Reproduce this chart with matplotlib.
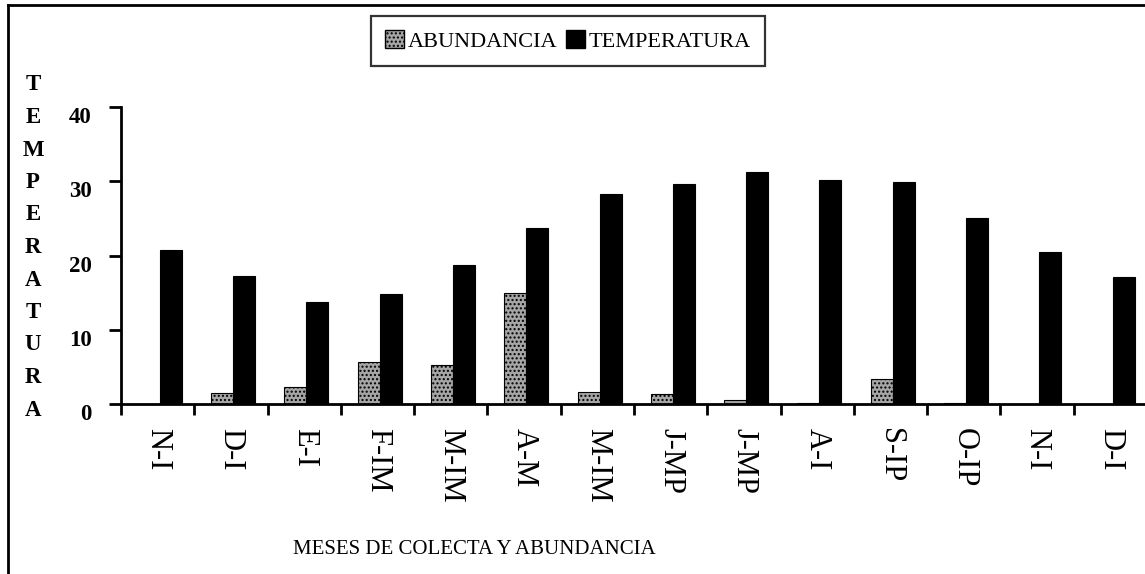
import numpy as np
import matplotlib
matplotlib.use("Agg")
import matplotlib.pyplot as plt
from matplotlib.patches import Patch
from matplotlib.lines import Line2D

plt.rcParams['font.family'] = ['Liberation Serif', 'DejaVu Serif']
plt.rcParams['hatch.linewidth'] = 1.0

# datos
meses = ['N-I', 'D-I', 'E-I', 'F-IM', 'M-IM', 'A-M', 'M-IM',
         'J-MP', 'J-MP', 'A-I', 'S-IP', 'O-IP', 'N-I', 'D-I']
abundancia = [0.0, 1.5, 2.3, 5.7, 5.3, 14.9, 1.6, 1.3, 0.5, 0.2, 3.4, 0.2, 0.0, 0.0]
temperatura = [20.8, 17.2, 13.7, 14.8, 18.7, 23.7, 28.3, 29.6, 31.2, 30.2, 29.9, 25.0, 20.5, 17.1]

W, H = 1145, 574
fig = plt.figure(figsize=(W / 100, H / 100), dpi=100)
ax = fig.add_axes([121 / W, 170 / H, 1026 / W, 297 / H])

gris = '#a6a6a6'
x = np.arange(len(meses))
ancho = 0.3
ax.bar(x - 0.12, abundancia, ancho, color=gris, edgecolor='black',
       linewidth=0.8, hatch='....')
ax.bar(x + 0.18, temperatura, ancho, color='black', edgecolor='black', linewidth=0.8)

ax.set_xlim(-0.5, len(meses) - 0.5)
ax.set_ylim(0, 40)
ax.set_yticks([0, 10, 20, 30, 40])
ax.set_yticklabels(['0', '10', '20', '30', '40'], fontsize=16.5, fontweight='bold', va='top')
ax.tick_params(axis='y', direction='out', length=9, width=2, pad=12)

# marcas entre categorias, etiquetas en el centro
ax.set_xticks(np.arange(len(meses) + 1) - 0.5)
ax.set_xticklabels([])
ax.tick_params(axis='x', which='major', direction='out', length=8, width=2)
ax.set_xticks(x, minor=True)
ax.set_xticklabels(meses, minor=True, rotation=-90, fontsize=22, va='top', ha='center')
ax.tick_params(axis='x', which='minor', length=0, pad=17)

for s in ['top', 'right']:
    ax.spines[s].set_visible(False)
ax.spines['left'].set_linewidth(2)
ax.spines['bottom'].set_linewidth(2)

# etiqueta vertical letra por letra
for i, letra in enumerate('TEMPERATURA'):
    fig.text(33 / W, 1 - (85 + i * 32.5) / H, letra, fontsize=16.5, fontweight='bold',
             ha='center', va='center')

fig.text(474 / W, 1 - 549 / H, 'MESES DE COLECTA Y ABUNDANCIA', fontsize=15,
         ha='center', va='center')

handles = [Patch(facecolor=gris, edgecolor='black', hatch='....', label='ABUNDANCIA'),
           Patch(facecolor='black', edgecolor='black', label='TEMPERATURA')]
leg = fig.legend(handles=handles, loc='center', bbox_to_anchor=(568 / W, 1 - 41 / H),
                 ncol=2, fontsize=16, frameon=True, fancybox=False, handlelength=0.85,
                 handleheight=0.85, handletextpad=0.15, columnspacing=0.4,
                 borderpad=0.65, borderaxespad=0)
leg.get_frame().set_edgecolor('black')
leg.get_frame().set_linewidth(1.6)

# marco exterior (solo izquierda y arriba visibles)
fig.add_artist(Line2D([8 / W, 8 / W], [0, 1 - 5 / H], color='black', linewidth=2))
fig.add_artist(Line2D([8 / W, 1], [1 - 5 / H, 1 - 5 / H], color='black', linewidth=2))

fig.savefig('out.png', dpi=100)
